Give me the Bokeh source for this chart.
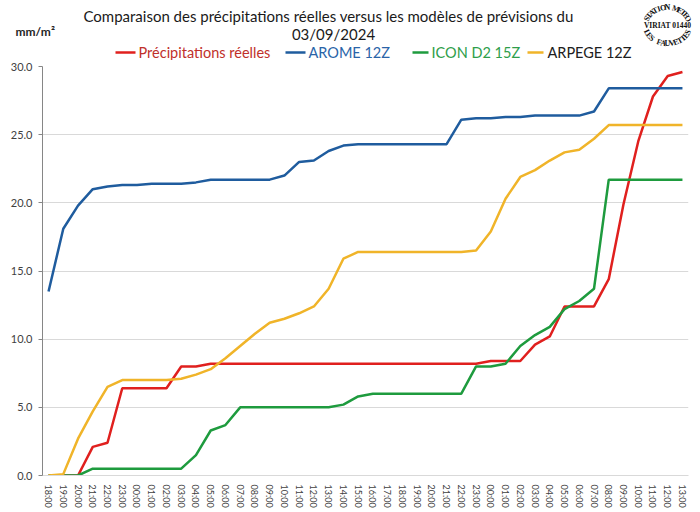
import math
from bokeh.plotting import figure
from bokeh.layouts import column
from bokeh.models import FixedTicker, NumeralTickFormatter, Range1d
from bokeh.core.properties import value
from bokeh.embed import file_html
from bokeh.resources import INLINE

# ---------------- data ----------------
hours = ["18:00", "19:00", "20:00", "21:00", "22:00", "23:00",
         "00:00", "01:00", "02:00", "03:00", "04:00", "05:00", "06:00", "07:00",
         "08:00", "09:00", "10:00", "11:00", "12:00", "13:00", "14:00", "15:00",
         "16:00", "17:00", "18:00", "19:00", "20:00", "21:00", "22:00", "23:00",
         "00:00", "01:00", "02:00", "03:00", "04:00", "05:00", "06:00", "07:00",
         "08:00", "09:00", "10:00", "11:00", "12:00", "13:00"]

reelles = [0, 0, 0, 2.1, 2.4, 6.4, 6.4, 6.4, 6.4, 8.0, 8.0, 8.2,
           8.2, 8.2, 8.2, 8.2, 8.2, 8.2, 8.2, 8.2, 8.2, 8.2, 8.2, 8.2,
           8.2, 8.2, 8.2, 8.2, 8.2, 8.2,
           8.4, 8.4, 8.4, 9.6, 10.2, 12.4, 12.4, 12.4, 14.4, 19.9, 24.5, 27.8, 29.3, 29.6]

arome = [13.5, 18.1, 19.8, 21.0, 21.2, 21.3, 21.3, 21.4, 21.4, 21.4, 21.5, 21.7,
         21.7, 21.7, 21.7, 21.7, 22.0, 23.0, 23.1, 23.8, 24.2, 24.3,
         24.3, 24.3, 24.3, 24.3, 24.3, 24.3,
         26.1, 26.2, 26.2, 26.3, 26.3, 26.4, 26.4, 26.4, 26.4, 26.7,
         28.4, 28.4, 28.4, 28.4, 28.4, 28.4]

icon = [0, 0, 0, 0.5, 0.5, 0.5, 0.5, 0.5, 0.5, 0.5,
        1.5, 3.3, 3.7, 5.0, 5.0, 5.0, 5.0, 5.0, 5.0, 5.0,
        5.2, 5.8, 6.0, 6.0, 6.0, 6.0, 6.0, 6.0, 6.0,
        8.0, 8.0, 8.2, 9.5, 10.3, 10.9, 12.2, 12.8, 13.7,
        21.7, 21.7, 21.7, 21.7, 21.7, 21.7]

arpege = [0, 0.1, 2.7, 4.7, 6.5, 7.0, 7.0, 7.0, 7.0, 7.1, 7.4, 7.8,
          8.6, 9.5, 10.4, 11.2, 11.5, 11.9, 12.4, 13.7, 15.9, 16.4,
          16.4, 16.4, 16.4, 16.4, 16.4, 16.4, 16.4,
          16.5, 17.9, 20.3, 21.9, 22.4, 23.1, 23.7, 23.9, 24.7,
          25.7, 25.7, 25.7, 25.7, 25.7, 25.7]

series_names = ["Précipitations réelles", "AROME 12Z", "ICON D2 15Z", "ARPEGE 12Z"]
series_values = [reelles, arome, icon, arpege]
y_ticks = [0, 5, 10, 15, 20, 25, 30]

title_line1 = "Comparaison des précipitations  réelles versus les modèles de prévisions du"
title_line2 = "03/09/2024"
unit_label = "mm/m²"
stamp_top = "STATION METEO"
stamp_mid = "VIRIAT 01440"
stamp_bottom = "LES FAUVETTES"

# ---------------- styles ----------------
line_colors = ["#E0201E", "#1F5C9E", "#1E9B3E", "#F0B429"]
legend_text_colors = ["#C0302A", "#2A64A8", "#2E9E4A", "#202020"]
FONT = "Lato"
W = 700
HEAD_H = 60


def hy(page_y):
    # header uses y upward; convert a top-down pixel offset
    return HEAD_H - page_y


# ---------------- header (title, unit, legend, stamp) ----------------
head = figure(width=W, height=HEAD_H, output_backend="svg", toolbar_location=None,
              x_range=Range1d(0, W), y_range=Range1d(0, HEAD_H),
              x_axis_type=None, y_axis_type=None,
              min_border=0, min_border_left=0, min_border_right=0,
              min_border_top=0, min_border_bottom=0)
head.frame_align = False
head.outline_line_color = None
head.xgrid.visible = False
head.ygrid.visible = False

head.text(x=[330, 333], y=[hy(15), hy(33)], text=[title_line1, title_line2],
          text_align="center", text_baseline="middle",
          text_font=value(FONT), text_font_size="15px", text_color="#1a1a1a")
head.text(x=[15], y=[hy(31)], text=[unit_label], text_align="left", text_baseline="middle",
          text_font=value(FONT), text_font_size="12px", text_font_style="bold",
          text_color="#262626")

leg_x0 = [115, 285, 412, 527]
leg_x1 = [135, 305, 428, 543]
leg_tx = [138, 308, 431, 547]
leg_y = hy(52)
head.segment(x0=leg_x0, y0=[leg_y] * 4, x1=leg_x1, y1=[leg_y] * 4,
             line_color=line_colors, line_width=2.5)
head.text(x=leg_tx, y=[leg_y] * 4, text=series_names,
          text_align="left", text_baseline="middle", text_font=value(FONT),
          text_font_size="14.5px", text_color=legend_text_colors)

# stamp logo (elliptical ring of letters)
cx, cy, rx, ry = 667, hy(25), 22, 18
sxs, sys_, chars, angs = [], [], [], []
a0, a1 = math.radians(158), math.radians(22)
for k, ch in enumerate(stamp_top):
    a = a0 + (a1 - a0) * k / (len(stamp_top) - 1)
    sxs.append(cx + rx * math.cos(a))
    sys_.append(cy + ry * math.sin(a))
    chars.append(ch)
    angs.append(math.atan2(-ry * math.cos(a), rx * math.sin(a)))
b0, b1 = math.radians(202), math.radians(338)
for k, ch in enumerate(stamp_bottom):
    a = b0 + (b1 - b0) * k / (len(stamp_bottom) - 1)
    sxs.append(cx + rx * math.cos(a))
    sys_.append(cy + ry * math.sin(a))
    chars.append(ch)
    angs.append(math.atan2(ry * math.cos(a), -rx * math.sin(a)))
head.text(x=sxs, y=sys_, text=chars, angle=angs, text_align="center",
          text_baseline="middle", text_font=value("Liberation Serif"),
          text_font_size="8px", text_font_style="bold", text_color="#111111")
head.text(x=[cx], y=[cy], text=[stamp_mid], text_align="center", text_baseline="middle",
          text_font=value("Liberation Serif"), text_font_size="7.5px",
          text_font_style="bold", text_color="#111111")

# ---------------- main chart ----------------
x = list(range(len(hours)))

p = figure(frame_width=646, frame_height=409, output_backend="svg", toolbar_location=None,
           x_range=Range1d(-0.41, len(hours) - 1 + 0.41), y_range=Range1d(0, 30),
           min_border_left=42, min_border_right=12, min_border_top=6, min_border_bottom=37)
p.frame_align = False

p.outline_line_color = None
p.background_fill_color = "white"
p.border_fill_color = "white"

p.xgrid.grid_line_color = None
p.ygrid.grid_line_color = "#d9d9d9"
p.ygrid.grid_line_width = 1

p.yaxis.ticker = FixedTicker(ticks=y_ticks)
p.yaxis.formatter = NumeralTickFormatter(format="0.0")
p.yaxis.axis_line_color = "#868686"
p.yaxis.major_tick_line_color = "#868686"
p.yaxis.major_tick_in = 0
p.yaxis.major_tick_out = 4
p.yaxis.minor_tick_line_color = None
p.yaxis.major_label_text_font = FONT
p.yaxis.major_label_text_font_size = "11px"
p.yaxis.major_label_text_color = "#404040"
p.yaxis.major_label_standoff = 6

p.xaxis.ticker = FixedTicker(ticks=x)
p.xaxis.major_label_overrides = {i: h for i, h in enumerate(hours)}
p.xaxis.axis_line_color = "#d9d9d9"
p.xaxis.major_tick_line_color = None
p.xaxis.minor_tick_line_color = None
p.xaxis.major_label_orientation = "vertical"
p.xaxis.major_label_text_font = FONT
p.xaxis.major_label_text_font_size = "9px"
p.xaxis.major_label_text_color = "#404040"
p.xaxis.major_label_standoff = 3

for vals, col in zip(series_values, line_colors):
    p.line(x, vals, line_color=col, line_width=2.5)

layout = column(head, p, spacing=0)
open("out.html", "w").write(file_html(layout, INLINE))
